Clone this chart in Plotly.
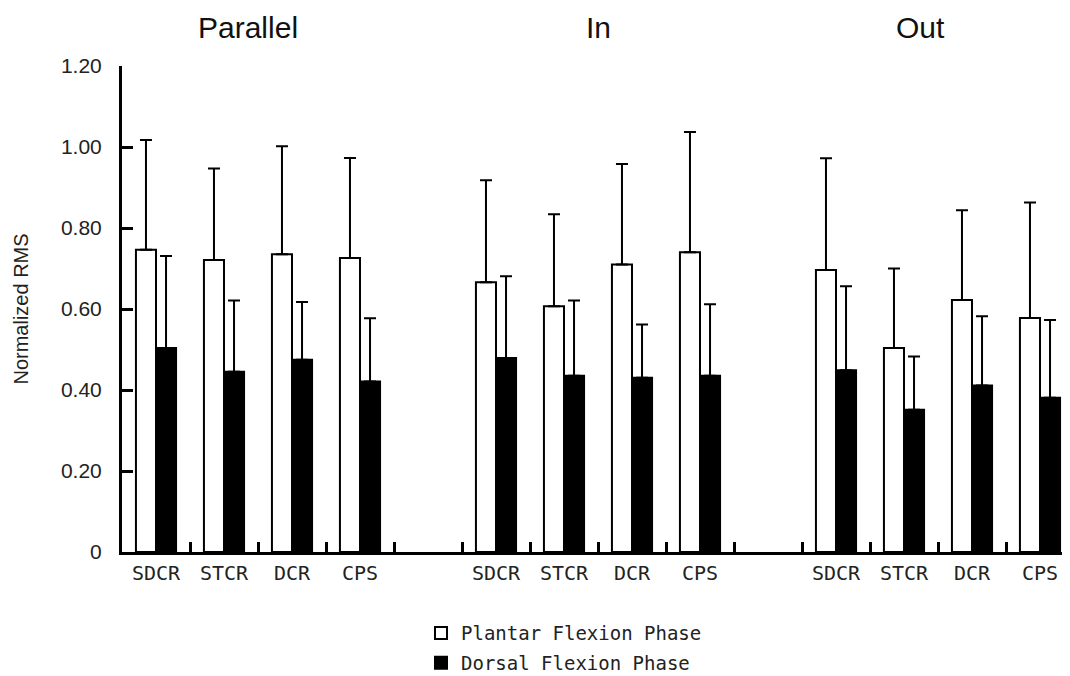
import plotly.graph_objects as go

# ---- data ----
conditions = ["Parallel", "In", "Out"]
categories = ["SDCR", "STCR", "DCR", "CPS"]

plantar_parallel = [0.746, 0.721, 0.735, 0.726]
plantar_parallel_sd = [0.271, 0.226, 0.267, 0.247]
dorsal_parallel = [0.504, 0.445, 0.475, 0.421]
dorsal_parallel_sd = [0.227, 0.176, 0.142, 0.156]

plantar_in = [0.666, 0.607, 0.710, 0.740]
plantar_in_sd = [0.252, 0.227, 0.248, 0.297]
dorsal_in = [0.479, 0.435, 0.430, 0.435]
dorsal_in_sd = [0.202, 0.186, 0.132, 0.177]

plantar_out = [0.696, 0.504, 0.622, 0.578]
plantar_out_sd = [0.276, 0.196, 0.222, 0.285]
dorsal_out = [0.449, 0.351, 0.411, 0.381]
dorsal_out_sd = [0.207, 0.132, 0.171, 0.192]

y_tickvals = [0, 0.2, 0.4, 0.6, 0.8, 1.0, 1.2]
y_ticktext = ["0", "0.20", "0.40", "0.60", "0.80", "1.00", "1.20"]

# ---- layout of slots: 4 categories per condition, one empty slot between ----
slot_step = len(categories) + 1
xpos, xlabels = [], []
for g, _ in enumerate(conditions):
    for i, c in enumerate(categories):
        xpos.append(g * slot_step + i)
        xlabels.append(c)
n_slots = len(conditions) * slot_step - 1
boundaries = [k + 0.5 for k in range(n_slots - 1)]

plantar = plantar_parallel + plantar_in + plantar_out
plantar_sd = plantar_parallel_sd + plantar_in_sd + plantar_out_sd
dorsal = dorsal_parallel + dorsal_in + dorsal_out
dorsal_sd = dorsal_parallel_sd + dorsal_in_sd + dorsal_out_sd

err_style = dict(type="data", symmetric=False, arrayminus=[0] * len(xpos),
                 color="black", thickness=2, width=6)

fig = go.Figure()
fig.add_trace(go.Bar(
    x=xpos, y=plantar, name="Plantar Flexion Phase", legendgroup="p",
    marker=dict(color="white", line=dict(color="black", width=2)),
    error_y=dict(array=plantar_sd, **err_style),
))
fig.add_trace(go.Bar(
    x=xpos, y=dorsal, name="Dorsal Flexion Phase", legendgroup="d",
    marker=dict(color="black", line=dict(color="black", width=2)),
    error_y=dict(array=dorsal_sd, **err_style),
))

mono = "DejaVu Sans Mono"
sans = "Liberation Sans, Arial, sans-serif"

# page body has an 8px margin: figure is sized to fit inside the window
fig.update_layout(
    width=1062, height=668,
    margin=dict(l=114, r=0, t=58, b=124, autoexpand=False),
    paper_bgcolor="white", plot_bgcolor="white",
    barmode="group", bargap=0.41, bargroupgap=0,
    showlegend=True,
    legend=dict(x=0.3154, xanchor="left", y=-0.128, yanchor="top",
                font=dict(family=mono, size=19, color="#222"),
                tracegroupgap=2, bgcolor="rgba(0,0,0,0)"),
    xaxis=dict(
        range=[-0.5, -0.5 + 948 / 68.0],
        automargin=False,
        tickmode="array", tickvals=xpos, ticktext=xlabels,
        ticks="", ticklabelstandoff=1,
        tickfont=dict(family=mono, size=20, color="#222"),
        showline=True, linecolor="black", linewidth=3,
        showgrid=False, zeroline=False,
        minor=dict(tickmode="array", tickvals=boundaries, ticks="inside",
                   ticklen=10, tickwidth=2.5, tickcolor="black", showgrid=False),
    ),
    yaxis=dict(
        range=[0, 1.2],
        automargin=False,
        tickmode="array", tickvals=y_tickvals, ticktext=y_ticktext,
        ticks="inside", ticklen=11, tickwidth=2.5, tickcolor="black",
        ticklabelstandoff=13,
        tickfont=dict(family=sans, size=21, color="#222"),
        showline=True, linecolor="black", linewidth=3,
        showgrid=False, zeroline=False,
        title=dict(text="Normalized RMS", standoff=27,
                   font=dict(family=sans, size=20, color="#222")),
    ),
)

# condition headers
header_x = [1.36, 6.5, 11.24]
for name, hx in zip(conditions, header_x):
    fig.add_annotation(x=hx, y=1.080, xref="x", yref="paper", text=name,
                       showarrow=False, xanchor="center", yanchor="middle",
                       font=dict(family=sans, size=30, color="#111"))

fig.write_html("out.html")
